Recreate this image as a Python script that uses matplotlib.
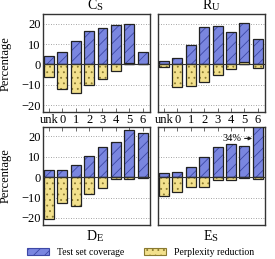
import numpy as np
import matplotlib
matplotlib.use("Agg")
import matplotlib.pyplot as plt
from matplotlib.patches import Patch

plt.rcParams['font.family'] = 'serif'
plt.rcParams['font.serif'] = ['Liberation Serif', 'DejaVu Serif']
plt.rcParams['hatch.linewidth'] = 0.6

cats = ['unk', '0', '1', '2', '3', '4', '5', '6']

cs_cov = [4.3, 6.0, 11.4, 16.2, 17.7, 19.3, 19.8, 6.3]
cs_ppl = [-6.4, -12.2, -14.2, -10.2, -7.3, -3.0, 0.5, 0.0]
ru_cov = [1.5, 3.3, 9.4, 18.5, 19.0, 16.0, 20.3, 12.4]
ru_ppl = [-1.3, -11.2, -10.6, -8.6, -5.0, -2.5, 1.3, -1.7]
de_cov = [3.7, 3.4, 6.2, 10.6, 14.7, 17.3, 22.9, 21.6]
de_ppl = [-20.5, -12.5, -14.1, -8.5, -5.3, -1.0, -0.8, -0.5]
es_cov = [1.9, 2.4, 5.0, 10.0, 14.9, 16.3, 15.4, 34.0]
es_ppl = [-9.1, -7.2, -4.8, -4.8, -1.4, -1.4, -0.3, -1.0]

panels = [
    ("C", "S", cs_cov, cs_ppl),
    ("R", "U", ru_cov, ru_ppl),
    ("D", "E", de_cov, de_ppl),
    ("E", "S", es_cov, es_ppl),
]

blue = '#7a86e0'
blue_hatch = '#3d48a6'
yellow = '#f2e08c'
yellow_hatch = '#8a7a30'
w = 0.74

fig, axes = plt.subplots(2, 2, figsize=(2.75, 2.59), dpi=100, sharey=True)
fig.subplots_adjust(left=0.156, right=0.964, top=0.945, bottom=0.131,
                    wspace=0.075, hspace=0.15)


def titulo_versalete(ax, grande, pequena, y, va):
    t = ax.text(0.5, y, grande, transform=ax.transAxes, ha='right', va=va,
                fontsize=10)
    ax.annotate(pequena, xy=(1, 0), xycoords=t, ha='left', va='bottom',
                fontsize=7.5)


x = np.arange(len(cats))
for i, (ax, (g, p, cov, ppl)) in enumerate(zip(axes.flat, panels)):
    # preenchimento + hachura, depois contorno preto
    ax.bar(x, cov, w, color=blue, hatch='///', edgecolor=blue_hatch, lw=0, zorder=2)
    ax.bar(x, cov, w, fill=False, edgecolor='#222222', lw=0.9, zorder=3)
    ax.bar(x, ppl, w, color=yellow, hatch='...', edgecolor=yellow_hatch, lw=0, zorder=4)
    ax.bar(x, ppl, w, fill=False, edgecolor='#222222', lw=0.9, zorder=5)
    ax.axhline(0, color='#333333', lw=0.8, zorder=6)
    for yy in [-20, -10, 10, 20]:
        ax.axhline(yy, color='#888888', lw=0.6, ls=(0, (1, 2)), zorder=1)

    ax.set_xlim(-0.45, 7.55)
    ax.set_ylim(-23.5, 24.6)
    ax.set_yticks([-20, -10, 0, 10, 20])
    ax.set_xticks(x)
    ax.set_xticklabels(cats)
    for s in ax.spines.values():
        s.set_linewidth(1.0)
        s.set_color('#333333')
    ax.tick_params(axis='both', direction='in', length=3, width=0.6,
                   labelsize=9, pad=1.5, color='#555555')
    ax.tick_params(axis='y', left=False)
    if i < 2:
        ax.tick_params(axis='x', bottom=True, top=False, labelbottom=True)
        titulo_versalete(ax, g, p, 1.02, 'bottom')
    else:
        ax.tick_params(axis='x', bottom=False, top=True, labeltop=False,
                       labelbottom=False)
        titulo_versalete(ax, g, p, -0.05, 'top')
    if i % 2 == 0:
        ax.set_ylabel('Percentage', fontsize=9)
        ax.yaxis.set_label_coords(-0.29, 0.5)

axes[1, 1].annotate('34%', xy=(6.58, 19), xytext=(5.1, 19), fontsize=7.5,
                    ha='center', va='center', zorder=7,
                    arrowprops=dict(arrowstyle='-|>', lw=0.8, color='#222222',
                                    mutation_scale=5, shrinkA=0, shrinkB=0))

handles = [
    Patch(facecolor=blue, edgecolor=blue_hatch, hatch='///', lw=0.8),
    Patch(facecolor=yellow, edgecolor=yellow_hatch, hatch='...', lw=0.8),
]
fig.legend(handles, ['Test set coverage', 'Perplexity reduction'],
           loc='center', bbox_to_anchor=(0.51, 0.025), ncol=2, frameon=False,
           fontsize=7, handlelength=2.3, handleheight=0.8, columnspacing=2.0,
           handletextpad=0.8)

fig.savefig('out.png', dpi=100)
